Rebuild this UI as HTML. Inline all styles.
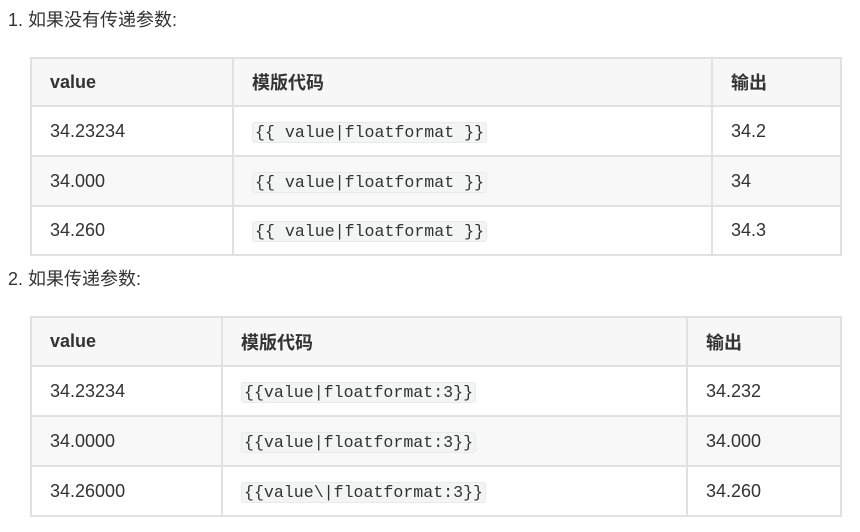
<!DOCTYPE html>
<html><head><meta charset="utf-8"><style>
body{margin:0;width:860px;height:532px;background:#fff;position:relative;font-family:"Liberation Sans","Noto Sans CJK SC",sans-serif;color:#333;overflow:hidden}
.h{position:absolute;left:8px;font-size:18px;line-height:24px;color:#333}
table{position:absolute;left:30px;border-collapse:collapse;font-size:18px;color:#333;table-layout:fixed}
td,th{border:2px solid #dfe2e5;padding:0 0 0 18px;text-align:left;vertical-align:middle;box-sizing:border-box}
th{font-weight:bold;background:#f7f7f7}
tr.e td{background:#f8f8f8}
code{font-family:"Liberation Mono",monospace;font-size:16.6px;background:#f3f4f4;border:1px solid #eaeaea;border-radius:3px;padding:0 2px;color:#333}
</style></head><body>
<div class="h" style="top:8px">1. 如果没有传递参数:</div>
<table style="top:57px;width:812px">
<tr style="height:48px"><th style="width:202px">value</th><th style="width:479px">模版代码</th><th>输出</th></tr>
<tr style="height:50px"><td>34.23234</td><td><code>{{ value|floatformat }}</code></td><td>34.2</td></tr>
<tr class="e" style="height:50px"><td>34.000</td><td><code>{{ value|floatformat }}</code></td><td>34</td></tr>
<tr style="height:49px"><td>34.260</td><td><code>{{ value|floatformat }}</code></td><td>34.3</td></tr>
</table>
<div class="h" style="top:267px">2. 如果传递参数:</div>
<table style="top:316px;width:812px">
<tr style="height:49px"><th style="width:191px">value</th><th style="width:465px">模版代码</th><th>输出</th></tr>
<tr style="height:50px"><td>34.23234</td><td><code>{{value|floatformat:3}}</code></td><td>34.232</td></tr>
<tr class="e" style="height:50px"><td>34.0000</td><td><code>{{value|floatformat:3}}</code></td><td>34.000</td></tr>
<tr style="height:50px"><td>34.26000</td><td><code>{{value\|floatformat:3}}</code></td><td>34.260</td></tr>
</table>
</body></html>
